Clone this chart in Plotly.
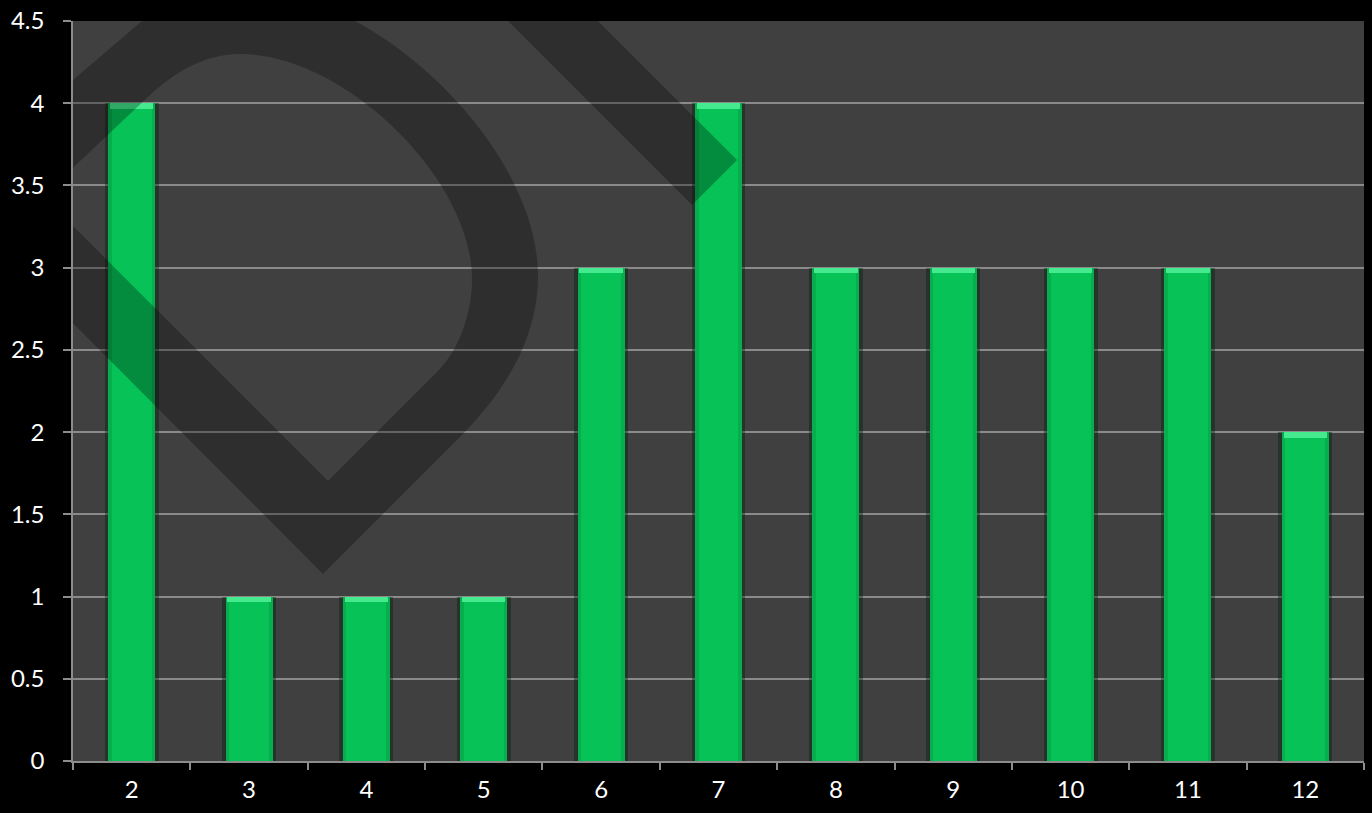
import plotly.graph_objects as go

# Frequency of each total
categories = [2, 3, 4, 5, 6, 7, 8, 9, 10, 11, 12]
counts = [4, 1, 1, 1, 3, 4, 3, 3, 3, 3, 2]
y_ticks = [0, 0.5, 1, 1.5, 2, 2.5, 3, 3.5, 4, 4.5]

W, H = 1372, 813
M_L, M_R, M_T, M_B = 73, 8, 21, 52
X_RANGE = [categories[0] - 0.5, categories[-1] + 0.5]
Y_RANGE = [0, 4.5]
PW, PH = W - M_L - M_R, H - M_T - M_B


def to_data(px, py):
    """Convert page pixel coordinates to axis coordinates."""
    x = X_RANGE[0] + (px - M_L) / PW * (X_RANGE[1] - X_RANGE[0])
    y = Y_RANGE[0] + (H - M_B - py) / PH * (Y_RANGE[1] - Y_RANGE[0])
    return x, y


def fmt(p):
    x, y = to_data(*p)
    return f"{x:.4f},{y:.4f}"


def path(*cmds):
    """Build an SVG path from ('M'|'L', p) and ('C', c1, c2, p) steps in pixels."""
    out = []
    for cmd in cmds:
        out.append(cmd[0] + " ".join(fmt(p) for p in cmd[1:]))
    return " ".join(out) + " Z"


# Logo watermark: a looped outline plus a diagonal stroke
outer = path(
    ("M", (-58, 192)),
    ("L", (323, 574)),
    ("L", (460, 437)),
    ("C", (503, 394), (538, 340), (538, 276)),
    ("C", (538, 146), (374, -12), (240, -12)),
    ("C", (200, -12), (170, 0), (142, 21)),
)
inner = path(
    ("M", (43, 196)),
    ("L", (328, 481)),
    ("L", (437, 372)),
    ("C", (460, 349), (472, 312), (472, 279)),
    ("C", (472, 178), (344, 54), (240, 54)),
    ("C", (205, 54), (175, 72), (150, 95)),
)
stroke = path(("M", (467, -20)), ("L", (557, -20)), ("L", (737, 160)), ("L", (692, 205)))

fig = go.Figure()

# soft shadow around each bar
fig.add_trace(go.Bar(x=categories, y=counts, width=0.46,
                     marker=dict(color="rgba(0,30,10,0.40)", line=dict(width=0))))
# bar body: darker rim with a brighter core
fig.add_trace(go.Bar(x=categories, y=counts, width=0.40,
                     marker=dict(color="#07ae4e", line=dict(width=0))))
fig.add_trace(go.Bar(x=categories, y=counts, width=0.34,
                     marker=dict(color="#06c257", line=dict(width=0))))
# glossy cap on top of each bar
cap = 0.035
fig.add_trace(go.Bar(x=categories, y=[cap] * len(counts),
                     base=[c - cap for c in counts], width=0.37,
                     marker=dict(color="#45ea8e", line=dict(width=0))))

axis_grey = "#8c8c8c"
fig.update_layout(
    width=W, height=H,
    margin=dict(l=M_L, r=M_R, t=M_T, b=M_B, pad=0, autoexpand=False),
    paper_bgcolor="#000000",
    plot_bgcolor="#404040",
    barmode="overlay",
    bargap=0,
    showlegend=False,
    font=dict(family="Lato, Open Sans, sans-serif", size=24, color="#ffffff"),
    xaxis=dict(
        range=X_RANGE, automargin=False,
        tickmode="array", tickvals=categories, ticktext=[str(c) for c in categories],
        ticks="", showgrid=False, zeroline=False,
        showline=True, linecolor=axis_grey, linewidth=1.5,
        ticklabelstandoff=6,
        minor=dict(tick0=X_RANGE[0], dtick=1, ticks="outside", ticklen=7,
                   tickcolor=axis_grey, tickwidth=1.5, showgrid=False),
    ),
    yaxis=dict(
        range=Y_RANGE, automargin=False,
        tickmode="array", tickvals=y_ticks, ticktext=[f"{v:g}" for v in y_ticks],
        ticks="outside", ticklen=8, tickcolor=axis_grey, tickwidth=1.5,
        showgrid=True, gridcolor="#8a8a8a", gridwidth=1.5, zeroline=False,
        showline=True, linecolor=axis_grey, linewidth=1.5,
        ticklabelstandoff=14,
    ),
    shapes=[
        dict(type="path", xref="x", yref="y", path=outer + " " + inner,
             fillrule="evenodd", fillcolor="rgba(0,0,0,0.28)",
             line=dict(width=0), layer="above"),
        dict(type="path", xref="x", yref="y", path=stroke,
             fillcolor="rgba(0,0,0,0.28)", line=dict(width=0), layer="above"),
    ],
)

fig.write_html("out.html")
